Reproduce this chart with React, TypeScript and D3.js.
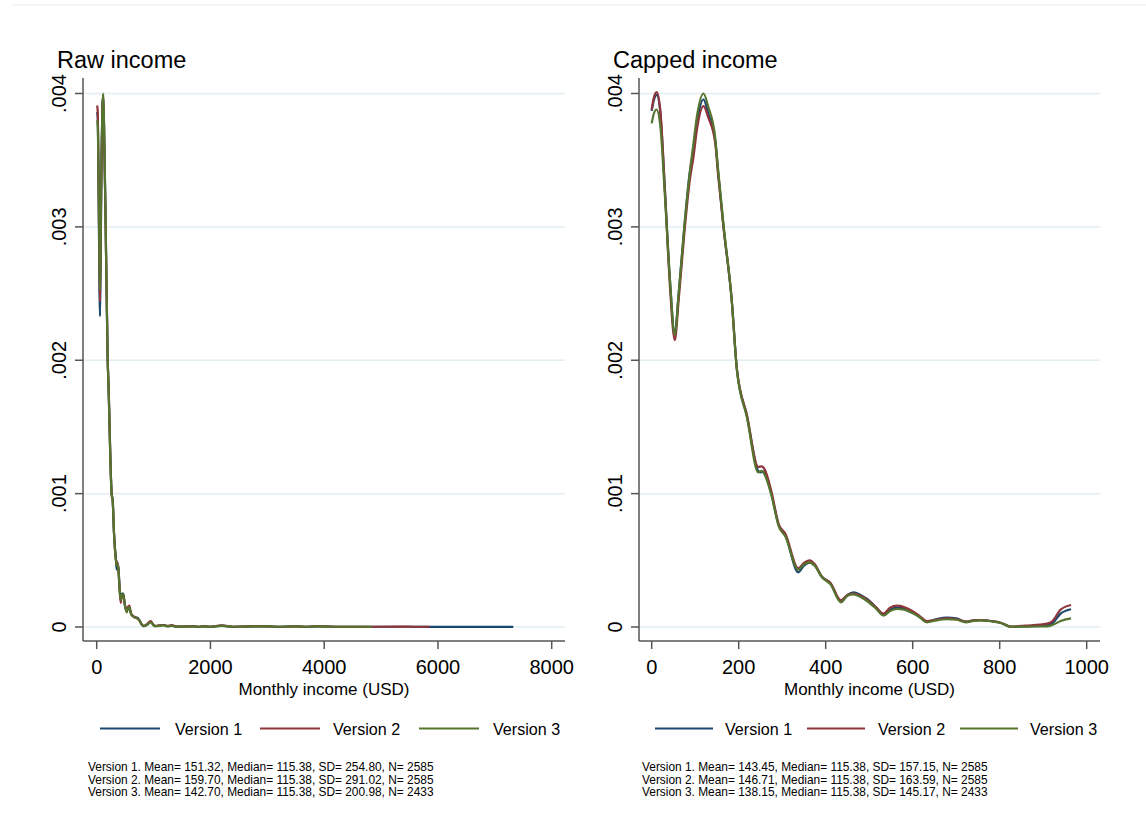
import React from "react";
import * as d3 from "d3";

type Pt = [number, number];

const SERIES_NAMES = ["Version 1", "Version 2", "Version 3"];
const SERIES_COLORS = ["#1a476f", "#90353b", "#55752f"];

const Y_TICKS = [0, 0.001, 0.002, 0.003, 0.004];
const Y_TICK_LABELS = ["0", ".001", ".002", ".003", ".004"];
const RAW_X_TICKS = [0, 2000, 4000, 6000, 8000];
const CAPPED_X_TICKS = [0, 200, 400, 600, 800, 1000];
const X_TITLE = "Monthly income (USD)";

// density values in units of 1e-3
const RAW_V1: Pt[] = [[8,3.86],[20,3.8],[35,3.2],[50,2.5],[58,2.33],[68,2.7],[85,3.5],[100,3.9],[116,3.99],[135,3.6],[158,3.0],[193,2.0],[205,1.85],[263,1.0],[281,0.95],[304,0.705],[340,0.5],[351,0.43],[365,0.47],[380,0.45],[400,0.32],[422,0.2],[445,0.25],[468,0.25],[490,0.18],[527,0.115],[550,0.14],[573,0.15],[595,0.11],[615,0.09],[673,0.072],[710,0.07],[750,0.052],[790,0.02],[820,0.007],[880,0.015],[949,0.04],[990,0.02],[1025,0.007],[1100,0.01],[1172,0.015],[1250,0.006],[1318,0.01],[1400,0.003],[1500,0.003],[1690,0.005],[1800,0.002],[1866,0.005],[2000,0.002],[2197,0.01],[2400,0.002],[2812,0.005],[3017,0.005],[3200,0.002],[3486,0.005],[3700,0.002],[3896,0.005],[4200,0.002],[4600,0.002],[5000,0.002],[5500,0.002],[6000,0.001],[6500,0.001],[7000,0.001],[7325,0.001]];
const RAW_V2: Pt[] = [[8,3.91],[20,3.85],[35,3.25],[50,2.6],[58,2.44],[68,2.8],[85,3.5],[100,3.88],[116,3.98],[135,3.6],[158,3.0],[193,2.0],[205,1.86],[263,1.0],[281,0.955],[304,0.71],[340,0.5],[351,0.49],[365,0.48],[380,0.44],[400,0.3],[422,0.18],[445,0.24],[468,0.24],[490,0.18],[527,0.12],[550,0.15],[573,0.16],[595,0.12],[615,0.09],[673,0.075],[710,0.065],[750,0.05],[790,0.02],[820,0.01],[880,0.02],[949,0.045],[990,0.02],[1025,0.008],[1100,0.012],[1172,0.015],[1250,0.008],[1318,0.014],[1400,0.004],[1500,0.003],[1690,0.006],[1800,0.002],[1866,0.006],[2000,0.002],[2197,0.012],[2400,0.002],[2812,0.006],[3017,0.005],[3200,0.002],[3486,0.005],[3700,0.002],[3896,0.006],[4200,0.002],[4600,0.002],[4900,0.002],[5300,0.003],[5600,0.002],[5860,0.002]];
const RAW_V3: Pt[] = [[8,3.8],[20,3.75],[35,3.25],[50,2.7],[58,2.53],[68,2.9],[85,3.55],[100,3.9],[116,4.0],[135,3.62],[158,3.0],[193,2.0],[205,1.84],[263,0.99],[281,0.945],[304,0.7],[340,0.49],[351,0.46],[365,0.47],[380,0.44],[400,0.31],[422,0.2],[445,0.24],[468,0.245],[490,0.18],[527,0.11],[550,0.14],[573,0.15],[595,0.11],[615,0.09],[673,0.07],[710,0.065],[750,0.05],[790,0.02],[820,0.006],[880,0.015],[949,0.035],[990,0.018],[1025,0.006],[1100,0.008],[1172,0.012],[1250,0.005],[1318,0.008],[1400,0.003],[1500,0.003],[1690,0.004],[1800,0.002],[1866,0.004],[2000,0.002],[2197,0.008],[2400,0.002],[2812,0.004],[3017,0.004],[3200,0.002],[3486,0.004],[3700,0.002],[3896,0.004],[4200,0.002],[4600,0.002],[4834,0.002]];

const CAP_V1: Pt[] = [[0,3.87],[5,3.95],[11.5,3.99],[20,3.85],[30,3.3],[42,2.6],[53,2.2],[62,2.5],[75,3.0],[88,3.42],[95,3.55],[105,3.8],[119,3.955],[130,3.85],[146,3.65],[153,3.4],[165,3.0],[184,2.45],[196,1.93],[219,1.58],[245,1.17],[250,1.16],[257,1.165],[275,1.0],[292,0.765],[307,0.69],[337,0.41],[350,0.46],[363,0.482],[375,0.46],[391,0.377],[411,0.327],[435,0.19],[450,0.24],[464,0.26],[480,0.24],[495,0.21],[515,0.15],[533,0.09],[548,0.13],[564,0.145],[580,0.14],[599,0.115],[615,0.08],[632,0.04],[655,0.06],[679,0.07],[700,0.065],[722,0.04],[740,0.05],[756,0.052],[780,0.045],[802,0.032],[826,0.002],[860,0.005],[909,0.012],[925,0.04],[940,0.1],[964,0.133]];
const CAP_V2: Pt[] = [[0,3.88],[5,3.97],[11.5,4.01],[20,3.87],[30,3.3],[42,2.55],[53,2.15],[62,2.45],[75,2.95],[88,3.36],[95,3.5],[105,3.75],[119,3.905],[130,3.82],[146,3.63],[153,3.38],[165,3.0],[184,2.45],[196,1.93],[219,1.59],[245,1.2],[253,1.205],[260,1.18],[275,1.02],[292,0.77],[307,0.7],[337,0.44],[350,0.48],[363,0.5],[375,0.47],[391,0.38],[411,0.33],[435,0.2],[450,0.24],[464,0.25],[480,0.235],[495,0.205],[515,0.15],[533,0.1],[548,0.145],[564,0.16],[580,0.15],[599,0.12],[615,0.085],[632,0.045],[655,0.055],[679,0.065],[700,0.06],[722,0.04],[740,0.05],[756,0.052],[780,0.045],[802,0.032],[826,0.003],[860,0.01],[909,0.025],[920,0.04],[940,0.13],[964,0.165]];
const CAP_V3: Pt[] = [[0,3.776],[5,3.85],[11,3.88],[20,3.75],[30,3.25],[42,2.6],[53,2.19],[62,2.5],[75,3.0],[88,3.42],[95,3.6],[105,3.85],[119,4.0],[130,3.9],[146,3.67],[153,3.42],[165,3.02],[184,2.45],[196,1.92],[219,1.57],[245,1.16],[253,1.17],[260,1.14],[275,0.99],[292,0.755],[307,0.68],[337,0.43],[350,0.47],[363,0.485],[375,0.46],[391,0.375],[411,0.32],[435,0.185],[450,0.235],[464,0.245],[480,0.225],[495,0.195],[515,0.14],[533,0.085],[548,0.12],[564,0.135],[580,0.13],[599,0.105],[615,0.075],[632,0.035],[655,0.05],[679,0.058],[700,0.055],[722,0.035],[740,0.045],[756,0.05],[780,0.043],[802,0.03],[826,0.001],[860,0.003],[909,0.005],[925,0.02],[940,0.045],[964,0.065]];

const RAW_NOTES = [
  "Version 1. Mean= 151.32, Median= 115.38, SD= 254.80, N= 2585",
  "Version 2. Mean= 159.70, Median= 115.38, SD= 291.02, N= 2585",
  "Version 3. Mean= 142.70, Median= 115.38, SD= 200.98, N= 2433",
];
const CAP_NOTES = [
  "Version 1. Mean= 143.45, Median= 115.38, SD= 157.15, N= 2585",
  "Version 2. Mean= 146.71, Median= 115.38, SD= 163.59, N= 2585",
  "Version 3. Mean= 138.15, Median= 115.38, SD= 145.17, N= 2433",
];

const FONT = "Helvetica, 'Liberation Sans', Arial, sans-serif";

interface Layout {
  axisX: number;
  plotRight: number;
  xRange: [number, number];
  titleX: number;
  yLabelX: number;
  legendLines: [number, number][];
  legendText: number[];
  notesX: number;
}

function Panel(props: {
  title: string;
  series: Pt[][];
  xTicks: number[];
  layout: Layout;
  notes: string[];
}) {
  const { title, series, xTicks, layout, notes } = props;
  const top = 78;
  const bottom = 641;
  const x = d3
    .scaleLinear()
    .domain([xTicks[0], xTicks[xTicks.length - 1]])
    .range(layout.xRange);
  const y = d3.scaleLinear().domain([0, 0.004]).range([627, 93.5]);
  const line = d3
    .line<Pt>()
    .x((d) => x(d[0]))
    .y((d) => y(d[1] * 1e-3))
    .curve(d3.curveMonotoneX);
  const axisColor = "#555";
  return (
    <g>
      {Y_TICKS.map((t) => (
        <line
          key={"g" + t}
          x1={layout.axisX}
          x2={layout.plotRight}
          y1={y(t)}
          y2={y(t)}
          stroke="#e2eef1"
          strokeWidth={1.5}
        />
      ))}
      {series.map((s, i) => (
        <path
          key={"s" + i}
          d={line(s) || ""}
          fill="none"
          stroke={SERIES_COLORS[i]}
          strokeWidth={2.2}
          strokeLinejoin="round"
        />
      ))}
      <line x1={layout.axisX} x2={layout.axisX} y1={top} y2={bottom} stroke={axisColor} strokeWidth={1.5} />
      <line x1={layout.axisX} x2={layout.plotRight} y1={bottom} y2={bottom} stroke={axisColor} strokeWidth={1.5} />
      {Y_TICKS.map((t, i) => (
        <g key={"yt" + t}>
          <line x1={layout.axisX - 8} x2={layout.axisX} y1={y(t)} y2={y(t)} stroke={axisColor} strokeWidth={1.5} />
          <text
            transform={`translate(${layout.yLabelX},${y(t)}) rotate(-90)`}
            textAnchor="middle"
            fontSize={20}
            fontFamily={FONT}
            fill="#000"
          >
            {Y_TICK_LABELS[i]}
          </text>
        </g>
      ))}
      {xTicks.map((t) => (
        <g key={"xt" + t}>
          <line x1={x(t)} x2={x(t)} y1={bottom} y2={bottom + 8} stroke={axisColor} strokeWidth={1.5} />
          <text x={x(t)} y={674} textAnchor="middle" fontSize={20} fontFamily={FONT} fill="#000">
            {String(t)}
          </text>
        </g>
      ))}
      <text
        x={(layout.axisX + layout.plotRight) / 2}
        y={695}
        textAnchor="middle"
        fontSize={17}
        fontFamily={FONT}
        fill="#000"
      >
        {X_TITLE}
      </text>
      <text x={layout.titleX} y={68} fontSize={23.5} fontFamily={FONT} fill="#000">
        {title}
      </text>
      {SERIES_NAMES.map((n, i) => (
        <g key={"lg" + i}>
          <line
            x1={layout.legendLines[i][0]}
            x2={layout.legendLines[i][1]}
            y1={728.5}
            y2={728.5}
            stroke={SERIES_COLORS[i]}
            strokeWidth={2.2}
          />
          <text x={layout.legendText[i]} y={735} fontSize={16.1} fontFamily={FONT} fill="#000">
            {n}
          </text>
        </g>
      ))}
      {notes.map((n, i) => (
        <text key={"n" + i} x={layout.notesX} y={771 + i * 12.5} fontSize={11.9} fontFamily={FONT} fill="#000">
          {n}
        </text>
      ))}
    </g>
  );
}

const LEFT_LAYOUT: Layout = {
  axisX: 83,
  plotRight: 565,
  xRange: [96.7, 551.7],
  titleX: 57,
  yLabelX: 66,
  legendLines: [[100, 160], [260, 320], [419, 479]],
  legendText: [175, 333, 493],
  notesX: 88,
};
const RIGHT_LAYOUT: Layout = {
  axisX: 639,
  plotRight: 1100,
  xRange: [651.7, 1086.7],
  titleX: 613,
  yLabelX: 622,
  legendLines: [[655, 713], [807, 865], [960, 1018]],
  legendText: [725, 878, 1030],
  notesX: 642,
};

export default function App() {
  return (
    <div style={{ position: "absolute", left: 0, top: 0 }}>
      <svg width={1146} height={840} style={{ display: "block", background: "#fff" }}>
        <rect x={0} y={0} width={1146} height={840} fill="#fff" />
        <line x1={12} x2={1146} y1={5} y2={5} stroke="#eeeeee" strokeWidth={1.2} />
        <Panel title="Raw income" series={[RAW_V1, RAW_V2, RAW_V3]} xTicks={RAW_X_TICKS} layout={LEFT_LAYOUT} notes={RAW_NOTES} />
        <Panel title="Capped income" series={[CAP_V1, CAP_V2, CAP_V3]} xTicks={CAPPED_X_TICKS} layout={RIGHT_LAYOUT} notes={CAP_NOTES} />
      </svg>
    </div>
  );
}
